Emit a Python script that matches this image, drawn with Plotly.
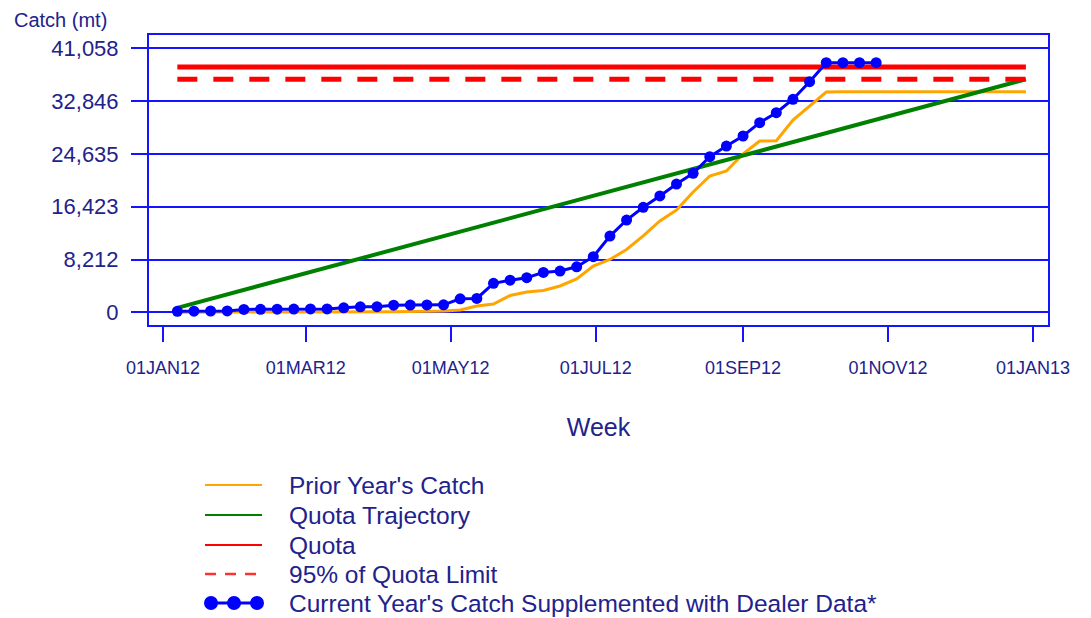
import plotly.graph_objects as go
import pandas as pd

# ---- data ----
week_dates = pd.date_range("2012-01-07", periods=52, freq="7D").strftime("%Y-%m-%d").tolist()

current_catch = [150, 180, 200, 220, 450, 470, 480, 500, 520, 520,
                 700, 850, 870, 1100, 1120, 1140, 1160, 2100, 2150, 4500,
                 5000, 5380, 6200, 6420, 7080, 8650, 11850, 14350, 16330, 18090,
                 19950, 21620, 24200, 25860, 27420, 29490, 31040, 33130, 35860, 38820,
                 38820, 38820, 38820]

prior_catch = [0, 0, 0, 0, 0, 50, 50, 50, 50, 50, 80, 80, 100, 100, 120, 150,
               200, 360, 980, 1290, 2610, 3160, 3390, 4090, 5180, 7200,
               8210, 9770, 11870, 14200, 15910, 18710, 21200, 21970, 24620, 26640,
               26690, 29910, 32090, 34260,
               34310, 34310, 34310, 34310, 34310, 34310, 34310, 34310, 34310, 34310, 34310, 34310]

quota = 38150
quota_95 = 36243
trajectory = [quota_95 * (k + 1) / 52 for k in range(52)]

y_ticks = [0, 8212, 16423, 24635, 32846, 41058]
y_tick_text = ["0", "8,212", "16,423", "24,635", "32,846", "41,058"]
x_ticks = ["2012-01-01", "2012-03-01", "2012-05-01", "2012-07-01", "2012-09-01", "2012-11-01", "2013-01-01"]
x_tick_text = ["01JAN12", "01MAR12", "01MAY12", "01JUL12", "01SEP12", "01NOV12", "01JAN13"]

series_names = ["Prior Year's Catch", "Quota Trajectory", "Quota", "95% of Quota Limit",
                "Current Year's Catch Supplemented with Dealer Data*"]

TEXT = "#22228C"
BLUE = "#1414FF"
FONT = "Liberation Sans, Arial, sans-serif"

fig = go.Figure()
fig.add_trace(go.Scatter(x=week_dates, y=prior_catch, mode="lines", name=series_names[0],
                         line=dict(color="#FFA500", width=3)))
fig.add_trace(go.Scatter(x=week_dates, y=trajectory, mode="lines", name=series_names[1],
                         line=dict(color="#008000", width=4)))
fig.add_trace(go.Scatter(x=week_dates, y=[quota] * 52, mode="lines", name=series_names[2],
                         line=dict(color="#FF0000", width=5)))
fig.add_trace(go.Scatter(x=week_dates, y=[quota_95] * 52, mode="lines", name=series_names[3],
                         line=dict(color="#FF0000", width=5, dash="20px,16px")))
fig.add_trace(go.Scatter(x=week_dates[:len(current_catch)], y=current_catch, mode="lines+markers",
                         name=series_names[4],
                         line=dict(color="#0000FF", width=3),
                         marker=dict(color="#0000FF", size=11, symbol="circle")))

# ---- custom legend (paper coords relative to plot area: x 149..1048, y 35..325 in page px) ----
PL, PR, PT, PB = 149, 1048, 35, 325
def px(x):
    return (x - PL) / (PR - PL)
def py(y):
    return (PB - y) / (PB - PT)

leg_y = [485, 515, 545, 574, 603]
leg_styles = [dict(color="#FFA500", width=2), dict(color="#008000", width=2),
              dict(color="#FF0000", width=2), dict(color="#FF3030", width=2.5, dash="11px,9px")]
shapes = []
for yy, st in zip(leg_y[:4], leg_styles):
    shapes.append(dict(type="line", xref="paper", yref="paper", x0=px(205), x1=px(262),
                       y0=py(yy), y1=py(yy), line=st))
shapes.append(dict(type="line", xref="paper", yref="paper", x0=px(206), x1=px(261),
                   y0=py(leg_y[4]), y1=py(leg_y[4]), line=dict(color="#0000FF", width=3)))
for cx in [211, 234, 257]:
    shapes.append(dict(type="circle", xref="paper", yref="paper",
                       x0=px(cx - 7), x1=px(cx + 7), y0=py(leg_y[4] + 7), y1=py(leg_y[4] - 7),
                       fillcolor="#0000FF", line=dict(color="#0000FF", width=0)))

annotations = [dict(text="Catch (mt)", xref="paper", yref="paper", x=px(12), y=py(20),
                    xanchor="left", yanchor="middle", showarrow=False,
                    font=dict(family=FONT, size=20, color=TEXT))]
for yy, name in zip(leg_y, series_names):
    annotations.append(dict(text=name, xref="paper", yref="paper", x=px(287), y=py(yy),
                            xanchor="left", yanchor="middle", showarrow=False,
                            font=dict(family=FONT, size=24.5, color=TEXT)))

# page body has an 8px margin, so the figure is drawn 8px smaller and offset
fig.update_layout(
    width=1083, height=610,
    margin=dict(l=141, r=43, t=27, b=293, autoexpand=False),
    paper_bgcolor="white", plot_bgcolor="white",
    font=dict(family=FONT, size=18, color=TEXT),
    showlegend=False,
    xaxis=dict(type="date", range=["2011-12-26 02:00", "2013-01-07 07:00"],
               tickvals=x_ticks, ticktext=x_tick_text, ticks="outside", ticklen=15,
               tickcolor=BLUE, tickwidth=2, showgrid=False, zeroline=False,
               ticklabelstandoff=10, tickfont=dict(family=FONT, size=18, color=TEXT),
               showline=True, linecolor=BLUE, linewidth=2, mirror=True,
               title=dict(text="Week", font=dict(family=FONT, size=25, color=TEXT), standoff=42)),
    yaxis=dict(range=[-1975, 43126], tickvals=y_ticks, ticktext=y_tick_text,
               ticks="outside", ticklen=16, tickcolor=BLUE, tickwidth=2,
               ticklabelstandoff=8, tickfont=dict(family=FONT, size=22, color=TEXT),
               showgrid=True, gridcolor=BLUE, gridwidth=1.5, zeroline=False,
               showline=True, linecolor=BLUE, linewidth=2, mirror=True),
    shapes=shapes,
    annotations=annotations,
)

fig.write_html("out.html")
